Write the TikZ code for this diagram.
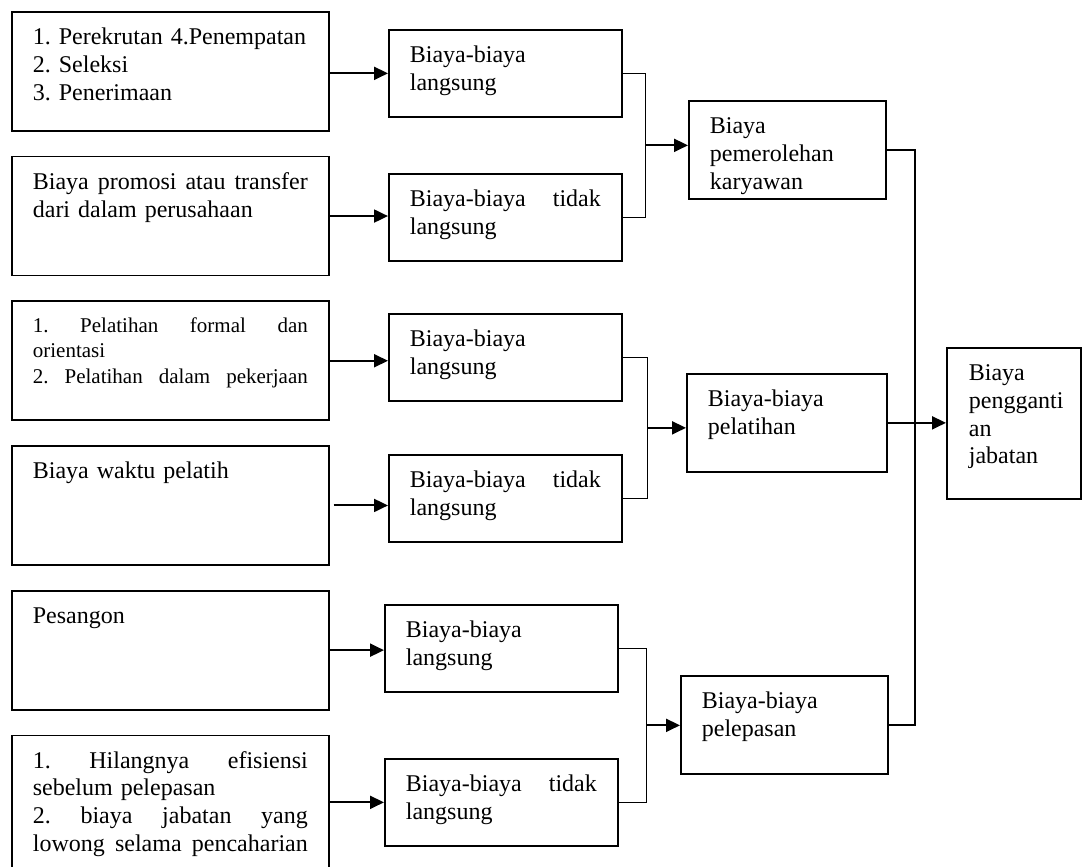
\documentclass[tikz,border=0pt]{standalone}
\usepackage{fontspec}
\setmainfont{Liberation Serif}
\usetikzlibrary{arrows.meta, positioning, calc}
\frenchspacing
\hyphenpenalty=10000
\tikzset{
    myarrow/.style={line width=1pt, -{Triangle[length=7pt, width=6.5pt]}},
    joint/.style={line width=0.65pt},
    trunk/.style={line width=1pt},
    box/.style={draw, line width=0.85pt, anchor=north west, align=left, inner xsep=10.5pt, inner ysep=0pt, text height=16.5pt, font=\fontsize{12}{13.8}\selectfont},
    srcbox/.style={box, text width=137.5pt, text depth=43pt},
    costbox/.style={box, text width=95.5pt, text depth=27pt},
    sumbox/.style={box, text depth=32.5pt}
}

\begin{document}
\begin{tikzpicture}[x=0.5pt, y=-0.5pt]
    \useasboundingbox (0,0) rectangle (1082,867);
    % sumber biaya
    \node (L1) [srcbox] at (11,11) {1. Perekrutan 4.Penempatan\\2. Seleksi\\3. Penerimaan};
    \node (L2) [srcbox, below=12pt of L1] {Biaya\hfill promosi\hfill atau\hfill transfer\\dari dalam perusahaan};
    \node (L3) [srcbox, below=12pt of L2, font=\fontsize{10.5}{12.75}\selectfont, text height=15.5pt, text depth=44pt] {1.\hfill Pelatihan\hfill formal\hfill dan\\orientasi\\2.\hfill Pelatihan\hfill dalam\hfill pekerjaan};
    \node (L4) [srcbox, below=12pt of L3] {Biaya waktu pelatih};
    \node (L5) [srcbox, below=12pt of L4] {Pesangon};
    \node (L6) [srcbox, below=12pt of L5, text depth=62pt] {1.\hfill Hilangnya\hfill efisiensi\\sebelum pelepasan\\2.\hfill biaya\hfill jabatan\hfill yang\\lowong\hfill selama\hfill pencaharian};
    % langsung / tidak langsung
    \node (M1) [costbox] at (388,29) {Biaya-biaya\\langsung};
    \node (M2) [costbox] at (388,173) {Biaya-biaya\hfill tidak\\langsung};
    \node (M3) [costbox] at (388,313) {Biaya-biaya\\langsung};
    \node (M4) [costbox] at (388,454) {Biaya-biaya\hfill tidak\\langsung};
    \node (M5) [costbox] at (384,604) {Biaya-biaya\\langsung};
    \node (M6) [costbox] at (384,758) {Biaya-biaya\hfill tidak\\langsung};
    % kelompok biaya
    \node (R1) [sumbox, text width=77.5pt] at (688,100) {Biaya\\pemerolehan\\karyawan};
    \node (R2) [sumbox, text width=79pt] at (686,373) {Biaya-biaya\\pelatihan};
    \node (R3) [sumbox, text width=82.5pt] at (680,675) {Biaya-biaya\\pelepasan};
    \node (F) [box, text width=45pt, inner xsep=11pt, text depth=59pt] at (946,347) {Biaya\\pengganti\\an\\jabatan};

    \draw [myarrow] (L1.east |- M1.west) -- (M1.west);
    \draw [myarrow] (L2.east) -- (L2.east -| M2.west);
    \draw [myarrow] (L3.east) -- (L3.east -| M3.west);
    \draw [myarrow, shorten <=2pt] (L4.east) -- (L4.east -| M4.west);
    \draw [myarrow] (L5.east) -- (L5.east -| M5.west);
    \draw [myarrow] (M6.west -| L6.east) -- (M6.west);

    \draw [joint] (M1.east) -- ++(23,0) |- (M2.east);
    \coordinate (j1) at ($(M1.east)!0.5!(M2.east) + (23,0)$);
    \draw [myarrow] (j1) -- (j1 -| R1.west);
    \draw [joint] (M3.east) -- ++(25,0) |- (M4.east);
    \coordinate (j2) at ($(M3.east)!0.5!(M4.east) + (25,0)$);
    \draw [myarrow] (j2) -- (j2 -| R2.west);
    \draw [joint] (M5.east) -- ++(28,0) |- (M6.east);
    \coordinate (j3) at ($(M5.east)!0.5!(M6.east) + (28,0)$);
    \draw [myarrow] (j3) -- (j3 -| R3.west);

    \draw [trunk] (R1.east) -- ++(28,0) |- (R3.east);
    \draw [myarrow] (R2.east) -- (R2.east -| F.west);
\end{tikzpicture}
\end{document}
